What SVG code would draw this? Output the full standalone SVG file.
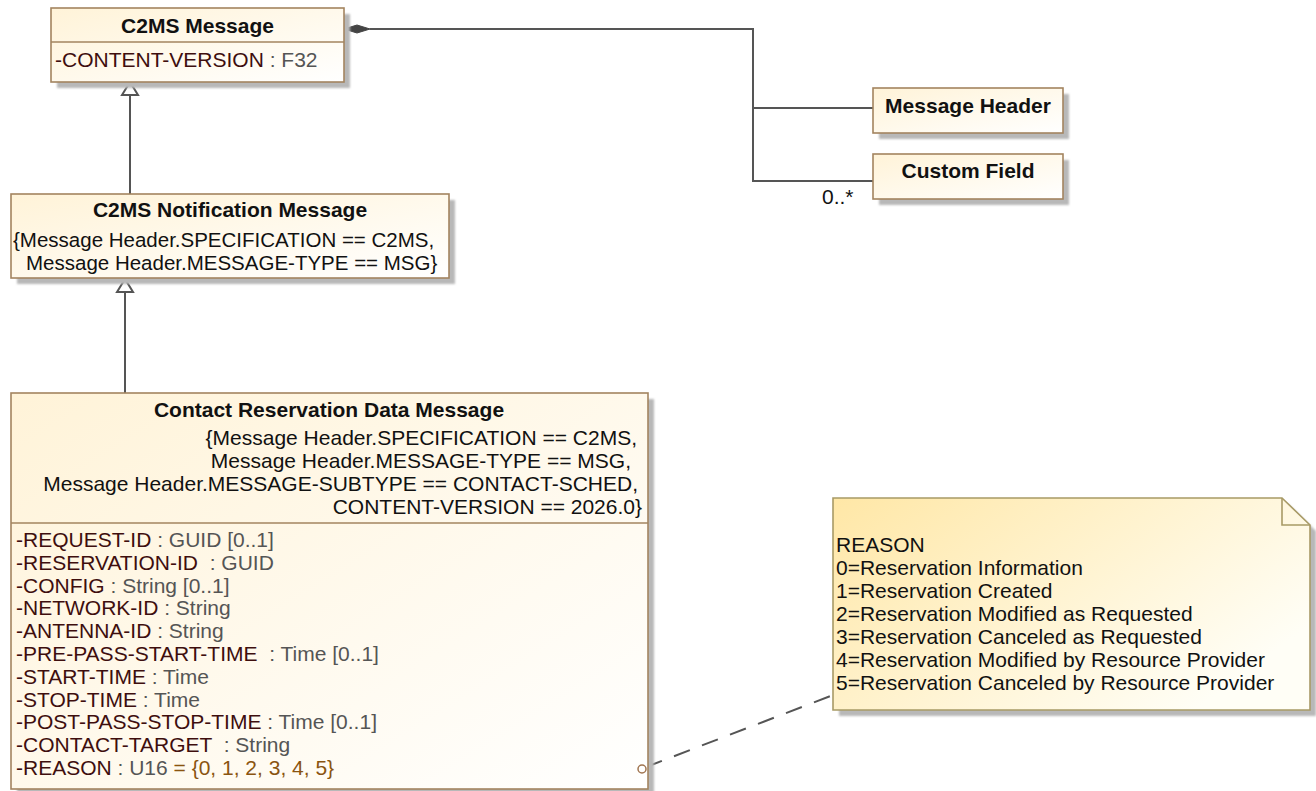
<svg xmlns="http://www.w3.org/2000/svg" width="1316" height="791" viewBox="0 0 1316 791">
<defs>
<linearGradient id="cls" x1="0" y1="0" x2="1" y2="1">
<stop offset="0" stop-color="#FFF3D8"/>
<stop offset="1" stop-color="#FFFFFF"/>
</linearGradient>
<linearGradient id="note" x1="0" y1="0" x2="1" y2="0.6">
<stop offset="0" stop-color="#FFE7A6"/>
<stop offset="1" stop-color="#FFFEF6"/>
</linearGradient>
<filter id="blur" x="-5%" y="-5%" width="110%" height="110%"><feGaussianBlur stdDeviation="1.2"/></filter>
</defs>
<style>
.box{fill:url(#cls);stroke:#A3845F;stroke-width:1.6}
.shadow{fill:#B8B8B8;filter:url(#blur)}
.div{stroke:#A3845F;stroke-width:1.6}
text{font-family:"Liberation Sans",Arial,sans-serif;font-size:21px;fill:#111}
.title{font-weight:bold;text-anchor:middle}
.nm{fill:#3E0E0E}
.ty{fill:#555555}
.val{fill:#8A5410}
.line{fill:none;stroke:#555;stroke-width:2}
.gen{fill:#fff;stroke:#555;stroke-width:2}
.cn{font-size:20.5px}
</style>
<rect width="1316" height="791" fill="#ffffff"/>

<g id="connectors">
<polygon points="344,29 357,25 370,29 357,33" fill="#444" stroke="#444" stroke-width="1"/>
<polyline class="line" points="370,29 753,29 753,181 873,181"/>
<line class="line" x1="753" y1="108" x2="873" y2="108"/>
<text x="822" y="204">0..*</text>
<line class="line" x1="130" y1="95" x2="130" y2="194"/>
<polygon class="gen" points="130,82 122,95 138,95"/>
<line class="line" x1="125" y1="292" x2="125" y2="393"/>
<polygon class="gen" points="125,279 117,292 133,292"/>
<line class="line" x1="646" y1="767" x2="833" y2="695" stroke-dasharray="17 13"/>
</g>

<g id="c2ms-message">
<rect class="shadow" x="57" y="14" width="293" height="74"/>
<rect class="box" x="51" y="8" width="293" height="74"/>
<line class="div" x1="51" y1="42" x2="344" y2="42"/>
<text class="title" x="197.5" y="33">C2MS Message</text>
<text x="55" y="67"><tspan class="nm">-CONTENT-VERSION</tspan><tspan class="ty"> : F32</tspan></text>
</g>

<g id="message-header">
<rect class="shadow" x="879" y="94" width="190" height="45"/>
<rect class="box" x="873" y="88" width="190" height="45"/>
<text class="title" x="968" y="113">Message Header</text>
</g>

<g id="custom-field">
<rect class="shadow" x="879" y="160" width="190" height="45"/>
<rect class="box" x="873" y="154" width="190" height="45"/>
<text class="title" x="968" y="178">Custom Field</text>
</g>

<g id="c2ms-notification-message">
<rect class="shadow" x="17" y="200" width="438" height="84"/>
<rect class="box" x="11" y="194" width="438" height="84"/>
<text class="title" x="230" y="217">C2MS Notification Message</text>
<text class="cn" x="13" y="247">{Message Header.SPECIFICATION == C2MS,</text>
<text class="cn" x="26" y="270">Message Header.MESSAGE-TYPE == MSG}</text>
</g>

<g id="contact-reservation-data-message">
<rect class="shadow" x="17" y="399" width="637" height="396"/>
<rect class="box" x="11" y="393" width="637" height="396"/>
<line class="div" x1="11" y1="523" x2="648" y2="523"/>
<text class="title" x="329" y="417">Contact Reservation Data Message</text>
<text x="637" y="445" text-anchor="end">{Message Header.SPECIFICATION == C2MS,</text>
<text x="631" y="468" text-anchor="end">Message Header.MESSAGE-TYPE == MSG,</text>
<text x="638" y="491" text-anchor="end">Message Header.MESSAGE-SUBTYPE == CONTACT-SCHED,</text>
<text x="642" y="514" text-anchor="end">CONTENT-VERSION == 2026.0}</text>
<text x="16" y="547" xml:space="preserve"><tspan class="nm">-REQUEST-ID</tspan><tspan class="ty"> : GUID [0..1]</tspan></text>
<text x="16" y="569.8" xml:space="preserve"><tspan class="nm">-RESERVATION-ID</tspan><tspan class="ty">  : GUID</tspan></text>
<text x="16" y="592.6" xml:space="preserve"><tspan class="nm">-CONFIG</tspan><tspan class="ty"> : String [0..1]</tspan></text>
<text x="16" y="615.4" xml:space="preserve"><tspan class="nm">-NETWORK-ID</tspan><tspan class="ty"> : String</tspan></text>
<text x="16" y="638.2" xml:space="preserve"><tspan class="nm">-ANTENNA-ID</tspan><tspan class="ty"> : String</tspan></text>
<text x="16" y="661" xml:space="preserve"><tspan class="nm">-PRE-PASS-START-TIME</tspan><tspan class="ty">  : Time [0..1]</tspan></text>
<text x="16" y="683.8" xml:space="preserve"><tspan class="nm">-START-TIME</tspan><tspan class="ty"> : Time</tspan></text>
<text x="16" y="706.6" xml:space="preserve"><tspan class="nm">-STOP-TIME</tspan><tspan class="ty"> : Time</tspan></text>
<text x="16" y="729.4" xml:space="preserve"><tspan class="nm">-POST-PASS-STOP-TIME</tspan><tspan class="ty"> : Time [0..1]</tspan></text>
<text x="16" y="752.2" xml:space="preserve"><tspan class="nm">-CONTACT-TARGET</tspan><tspan class="ty">  : String</tspan></text>
<text x="16" y="775" xml:space="preserve"><tspan class="nm">-REASON</tspan><tspan class="ty"> : U16</tspan><tspan class="val"> = {0, 1, 2, 3, 4, 5}</tspan></text>
<circle cx="642" cy="769" r="4" fill="none" stroke="#A0744F" stroke-width="1.5"/>
</g>

<g id="reason-note">
<path d="M839,504 H1288 L1316,531 V716 H839 Z" fill="#B8B8B8" filter="url(#blur)"/>
<path d="M833,498 H1282 L1310,525 V710 H833 Z" fill="url(#note)" stroke="#A89A66" stroke-width="1.6"/>
<path d="M1282,498 V525 H1310" fill="none" stroke="#A89A66" stroke-width="1.6"/>
<text x="836" y="552">REASON</text>
<text x="836" y="575">0=Reservation Information</text>
<text x="836" y="598">1=Reservation Created</text>
<text x="836" y="621">2=Reservation Modified as Requested</text>
<text x="836" y="644">3=Reservation Canceled as Requested</text>
<text x="836" y="667">4=Reservation Modified by Resource Provider</text>
<text x="836" y="690">5=Reservation Canceled by Resource Provider</text>
</g>
</svg>
